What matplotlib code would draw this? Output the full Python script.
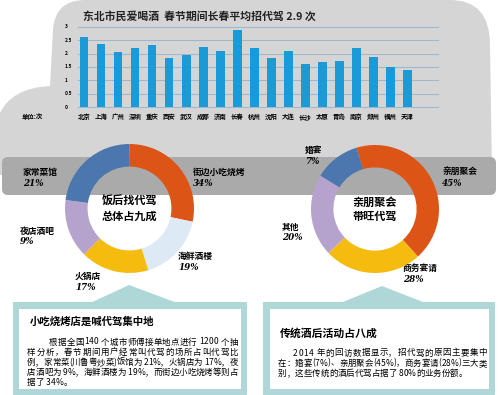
import matplotlib
matplotlib.use('Agg')
import matplotlib.pyplot as plt
import numpy as np
from matplotlib.path import Path
from matplotlib.patches import PathPatch, Polygon, FancyBboxPatch, Rectangle
from matplotlib.font_manager import FontProperties

plt.rcParams['font.family'] = ['Noto Sans CJK SC', 'DejaVu Sans']

# bar chart: average designated-driver calls per city
cities = ['北京', '上海', '广州', '深圳', '重庆', '西安', '武汉', '成都', '济南', '长春',
          '杭州', '沈阳', '大连', '长沙', '太原', '青岛', '南京', '郑州', '福州', '天津']
times = [2.61, 2.37, 2.06, 2.21, 2.32, 1.84, 1.95, 2.26, 2.09, 2.88,
         2.20, 1.83, 2.10, 1.63, 1.70, 1.74, 2.22, 1.89, 1.49, 1.40]
yticks = [0, 0.5, 1, 1.5, 2, 2.5, 3]
ytick_labels = ['0', '0.5', '1', '1.5', '2', '2.5', '3']

# donut 1: where people call a driver (slice share as drawn, label as printed)
place_names = ['街边小吃烧烤', '海鲜酒楼', '火锅店', '夜店酒吧', '家常菜馆']
place_labels = ['34%', '19%', '17%', '9%', '21%']
place_share = [28.3, 17.0, 17.1, 14.7, 22.9]

# donut 2: why people call a driver
reason_names = ['亲朋聚会', '商务宴请', '其他', '婚宴']
reason_labels = ['45%', '28%', '20%', '7%']
reason_share = [43.0, 24.6, 20.8, 11.6]

left_title = '小吃烧烤店是喊代驾集中地'
left_lines = ['根据全国140 个城市师傅接单地点进行 1200 个抽',
              '样分析，春节期间用户经常叫代驾的场所占叫代驾比',
              '例，家常菜(川鲁粤炒菜)饭馆为 21%，火锅店为 17%，夜',
              '店酒吧为 9%，海鲜酒楼为 19%，而街边小吃烧烤等则占',
              '据了 34%。']
right_title = '传统酒后活动占八成'
right_lines = ['2014 年的回访数据显示，招代驾的原因主要集中',
               '在：婚宴(7%)、亲朋聚会(45%)，商务宴请(28%)三大类',
               '别，这些传统的酒后代驾占据了 80%的业务份额。']

ORANGE = '#dc5516'
BLUE = '#4b77ae'
PALE = '#dde9f5'
YELLOW = '#f5bb0e'
PURPLE = '#b6a3cd'
TEAL = '#b0d7d7'
W, H = 500, 395

fig = plt.figure(figsize=(5, 3.95), dpi=100)
renderer = fig.canvas.get_renderer()

# background layer in pixel coords (y down)
bg = fig.add_axes([0, 0, 1, 1])
bg.set_xlim(0, W)
bg.set_ylim(H, 0)
bg.axis('off')

verts = [(0, 175), (0, 113), (12, 88), (50, 86), (53, 30), (55, 0), (85, 0),
         (450, 0), (490, 0), (490, 45), (492, 175), (0, 175)]
codes = [Path.MOVETO, Path.LINETO, Path.CURVE3, Path.CURVE3, Path.LINETO,
         Path.CURVE3, Path.CURVE3, Path.LINETO, Path.CURVE3, Path.CURVE3,
         Path.LINETO, Path.CLOSEPOLY]
bg.add_patch(PathPatch(Path(verts, codes), fc='#d5d5d5', ec='none', zorder=1))
bg.add_patch(FancyBboxPatch((2, 157), 494, 38, boxstyle='round,pad=0,rounding_size=6',
                            fc='#aaaaaa', ec='none', zorder=2))

# arrows + text boxes
bg.add_patch(Polygon([(88, 304), (129, 285), (180, 304)], fc=TEAL, ec='none', zorder=2))
bg.add_patch(Polygon([(338, 304), (382, 286), (428, 304)], fc=TEAL, ec='none', zorder=2))
bg.add_patch(Rectangle((13, 302), 234, 95, fc=TEAL, ec='none', zorder=2))
bg.add_patch(Rectangle((19, 309), 222, 80, fc='white', ec='none', zorder=3))
bg.add_patch(Rectangle((263, 302), 232, 95, fc=TEAL, ec='none', zorder=2))
bg.add_patch(Rectangle((270, 309), 219, 80, fc='white', ec='none', zorder=3))

bg.text(83, 16, '东北市民爱喝酒  春节期间长春平均招代驾 2.9 次', fontsize=7.8,
        fontweight='bold', color='#222222', ha='left', va='center', zorder=5)
bg.text(22, 117, '单位:次', fontsize=4.6, fontweight='bold', ha='left', va='center', zorder=5)

# bar chart
ax = fig.add_axes([78 / W, (H - 107.3) / H, 360 / W, 80.6 / H])
ax.patch.set_visible(False)
x = np.arange(len(cities))
for v in yticks:
    ax.axhline(v, color='#a0b7cd', lw=0.8, zorder=1, clip_on=False)
ax.bar(x, times, width=0.52, color='#1a9bd7', zorder=3)
ax.set_xlim(-0.35, 20.8)
ax.set_ylim(0, 3.0)
ax.axis('off')
for v, lbl in zip(yticks, ytick_labels):
    ax.text(-0.036, v, lbl, transform=ax.get_yaxis_transform(), fontsize=3.5,
            fontweight='bold', ha='left', va='center')
for i, c in enumerate(cities):
    ax.text(i, -0.36, c, fontsize=4.6, fontweight='bold', ha='center', va='center',
            clip_on=False)


def donut(cx, cy, r, shares, colors, start, center_lines):
    a = fig.add_axes([(cx - r) / W, (H - cy - r) / H, 2 * r / W, 2 * r / H])
    a.pie(shares, colors=colors, startangle=start, counterclock=False, radius=1,
          wedgeprops=dict(width=0.35, linewidth=0))
    a.set_xlim(-1, 1)
    a.set_ylim(-1, 1)
    a.text(0, 0.11, center_lines[0], fontsize=8, fontweight='bold', ha='center', va='center')
    a.text(0, -0.12, center_lines[1], fontsize=8, fontweight='bold', ha='center', va='center')
    return a


donut(129.5, 208.5, 64.5, place_share, [ORANGE, PALE, YELLOW, PURPLE, BLUE], 90,
      ['饭后找代驾', '总体占九成'])
donut(375, 209, 64, reason_share, [ORANGE, YELLOW, PURPLE, BLUE], 106.8,
      ['亲朋聚会', '带旺代驾'])

# slice labels (x, y of name line)
place_pos = [(193, 172), (178, 257), (75, 276), (20, 231), (23, 172)]
reason_pos = [(442, 172), (403, 268), (282, 227), (305, 151)]
for names, labels, pos in [(place_names, place_labels, place_pos),
                           (reason_names, reason_labels, reason_pos)]:
    for n, l, (px, py) in zip(names, labels, pos):
        bg.text(px, py, n, fontsize=6.3, fontweight='bold', ha='left', va='center', zorder=6)
        bg.text(px, py + 11, l, fontsize=6.3, family='DejaVu Serif', fontweight='bold',
                style='italic', ha='left', va='center', zorder=6)


def put_line(x0, x1, y, s, size, justify=True):
    # place characters one by one so the line fills x0..x1 like the print layout
    prop = FontProperties(family=['Noto Sans CJK SC', 'DejaVu Sans'], size=size,
                          weight='medium')
    widths = [renderer.get_text_width_height_descent(ch, prop, ismath=False)[0]
              for ch in s]
    gap = 0.0
    if justify and len(s) > 1:
        gap = (x1 - x0 - sum(widths)) / (len(s) - 1)
    pos = x0
    for ch, w in zip(s, widths):
        bg.text(pos, y, ch, fontproperties=prop, ha='left', va='center', zorder=6)
        pos += w + gap


bg.text(30, 322, left_title, fontsize=7.5, fontweight='bold',
        ha='left', va='center', zorder=6)
for i, t in enumerate(left_lines):
    put_line(49 if i == 0 else 27, 238, 342 + 10.1 * i, t, 6.1,
             justify=i < len(left_lines) - 1)

bg.text(280, 333, right_title, fontsize=7.8, fontweight='bold',
        ha='left', va='center', zorder=6)
for i, t in enumerate(right_lines):
    put_line(293 if i == 0 else 278, 487, 353 + 10.1 * i, t, 6.1,
             justify=i < len(right_lines) - 1)

fig.savefig('out.png', dpi=100)
